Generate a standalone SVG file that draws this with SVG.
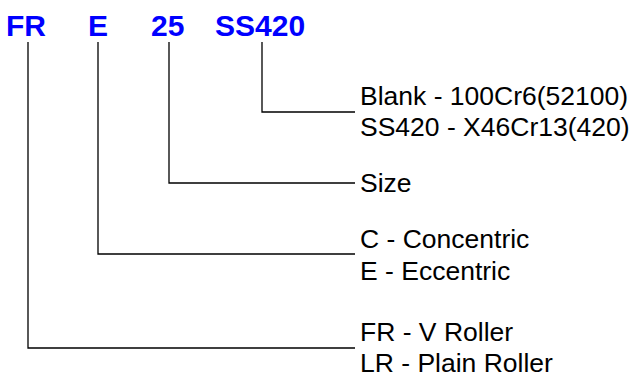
<svg xmlns="http://www.w3.org/2000/svg" width="633" height="378" viewBox="0 0 633 378">
<style>
.code{font-family:"Liberation Sans",Arial,sans-serif;font-weight:bold;font-size:30px;fill:#0000ff}
.lbl{font-family:"Liberation Sans",Arial,sans-serif;font-size:26.5px;fill:#000}
.ln{fill:none;stroke:#000;stroke-width:1.3}
</style>
<rect width="633" height="378" fill="#fff"/>
<g id="codes">
<text id="c-fr" class="code" x="6" y="36">FR</text>
<text id="c-e" class="code" x="88" y="36">E</text>
<text id="c-25" class="code" x="151" y="36">25</text>
<text id="c-ss" class="code" x="215" y="36">SS420</text>
</g>
<g id="connectors">
<polyline class="ln" points="262,42 262,112 355,112"/>
<polyline class="ln" points="169,42 169,183 355,183"/>
<polyline class="ln" points="98,42 98,254 355,254"/>
<polyline class="ln" points="28,42 28,348 355,348"/>
</g>
<g id="material">
<text class="lbl" x="360" y="105">Blank - 100Cr6(52100)</text>
<text class="lbl" x="360" y="136">SS420 - X46Cr13(420)</text>
</g>
<g id="size">
<text class="lbl" x="360" y="192">Size</text>
</g>
<g id="type">
<text class="lbl" x="360" y="248">C - Concentric</text>
<text class="lbl" x="360" y="280">E - Eccentric</text>
</g>
<g id="roller">
<text class="lbl" x="360" y="341">FR - V Roller</text>
<text class="lbl" x="360" y="372">LR - Plain Roller</text>
</g>
</svg>
